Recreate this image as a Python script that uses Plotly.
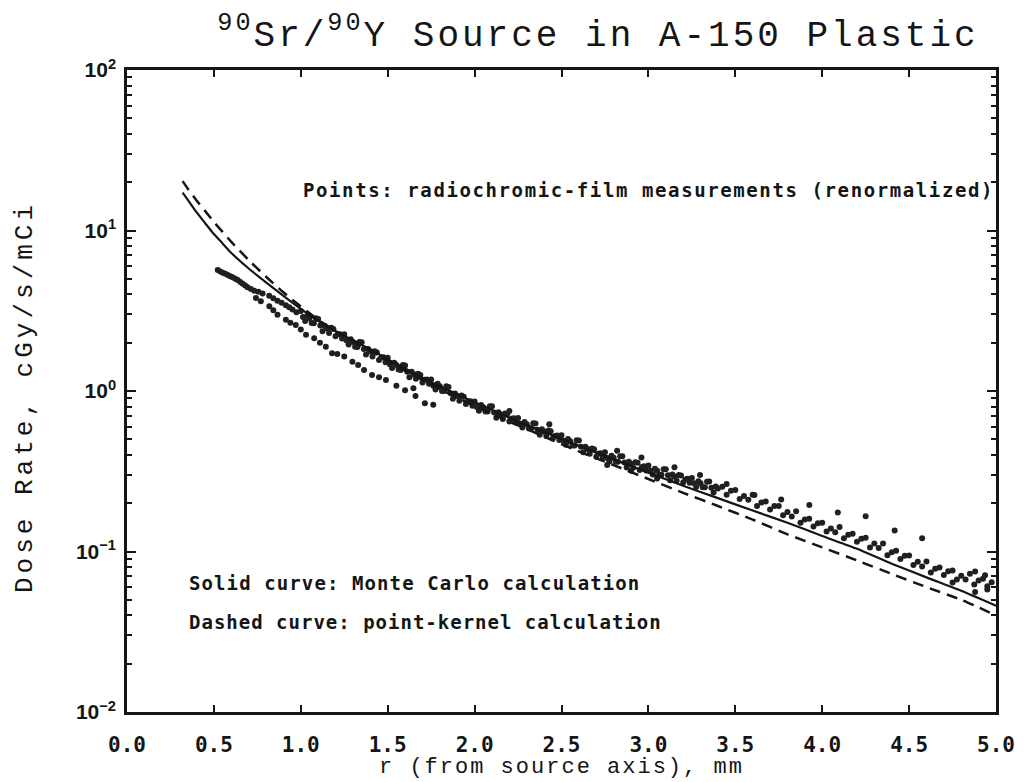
import plotly.graph_objects as go

# Dose-rate curves: Monte Carlo (solid) and point-kernel (dashed) calculations
curve_r = [0.32, 0.35, 0.40, 0.45, 0.50, 0.55, 0.60, 0.70, 0.80, 0.90, 1.00, 1.10,
           1.20, 1.30, 1.40, 1.50, 1.60, 1.70, 1.80, 1.90, 2.00, 2.20, 2.40, 2.60,
           2.80, 3.00, 3.20, 3.40, 3.60, 3.80, 4.00, 4.20, 4.40, 4.60, 4.80, 5.00]
monte_carlo = [17.2, 15.5, 13.0, 11.1, 9.5, 8.3, 7.25, 5.8, 4.75, 3.92, 3.25, 2.74,
               2.36, 2.07, 1.82, 1.58, 1.38, 1.21, 1.07, 0.95, 0.85, 0.68, 0.555, 0.455,
               0.375, 0.31, 0.257, 0.215, 0.180, 0.151, 0.125, 0.104, 0.084, 0.069, 0.057, 0.046]
point_kernel = [20.3, 18.2, 15.4, 13.2, 11.3, 9.8, 8.5, 6.55, 5.15, 4.12, 3.36, 2.78,
                2.36, 2.04, 1.78, 1.54, 1.34, 1.17, 1.03, 0.91, 0.81, 0.645, 0.52, 0.42,
                0.345, 0.283, 0.232, 0.192, 0.158, 0.128, 0.106, 0.088, 0.0725, 0.060, 0.050, 0.040]

# Radiochromic-film measurements (renormalized): near-source band
film_r_near = [0.522, 0.537, 0.551, 0.566, 0.580, 0.594, 0.608, 0.623, 0.637, 0.652,
               0.666, 0.680, 0.694, 0.713, 0.732, 0.756, 0.780, 0.818, 0.842, 0.866,
               0.890, 0.914, 0.933, 0.952, 0.975]
film_d_near = [5.67, 5.56, 5.46, 5.37, 5.28, 5.19, 5.11, 5.01, 4.92, 4.78,
               4.65, 4.54, 4.43, 4.32, 4.22, 4.15, 4.05, 3.92, 3.78, 3.65,
               3.55, 3.42, 3.33, 3.22, 3.10]

# Second (lower) film scan between 0.7 and 1.8 mm
film_r_low = [0.742, 0.770, 0.819, 0.842, 0.866, 0.914, 0.940, 0.971, 1.000, 1.030,
              1.077, 1.110, 1.144, 1.180, 1.210, 1.250, 1.297, 1.330, 1.364, 1.410,
              1.450, 1.490, 1.550, 1.600, 1.648, 1.660, 1.714, 1.762]
film_d_low = [3.80, 3.62, 3.37, 3.18, 2.99, 2.78, 2.66, 2.58, 2.42, 2.24,
              2.13, 2.00, 1.89, 1.72, 1.70, 1.64, 1.52, 1.45, 1.35, 1.26,
              1.22, 1.17, 1.08, 1.01, 1.04, 0.93, 0.84, 0.82]

# Main measurement band, 1.0 - 5.0 mm
film_r_main = [1.000, 1.025, 1.050, 1.075, 1.100, 1.125, 1.150, 1.175, 1.200, 1.225,
               1.250, 1.275, 1.300, 1.325, 1.350, 1.375, 1.400, 1.425, 1.450, 1.475,
               1.500, 1.525, 1.550, 1.575, 1.600, 1.625, 1.650, 1.675, 1.700, 1.725,
               1.750, 1.775, 1.800, 1.825, 1.850, 1.875, 1.900, 1.925, 1.950, 1.975,
               2.000, 2.025, 2.050, 2.075, 2.100, 2.125, 2.150, 2.175, 2.200, 2.225,
               2.250, 2.275, 2.300, 2.325, 2.350, 2.375, 2.400, 2.425, 2.450, 2.475,
               2.500, 2.525, 2.550, 2.575, 2.600, 2.625, 2.650, 2.675, 2.700, 2.725,
               2.750, 2.775, 2.800, 2.825, 2.850, 2.875, 2.900, 2.925, 2.950, 2.975,
               3.000, 3.025, 3.050, 3.075, 3.100, 3.125, 3.150, 3.175, 3.200, 3.225,
               3.250, 3.275, 3.300, 3.325, 3.350, 3.375, 3.400, 3.425, 3.450, 3.475,
               3.500, 3.525, 3.550, 3.575, 3.600, 3.625, 3.650, 3.675, 3.700, 3.725,
               3.750, 3.775, 3.800, 3.825, 3.850, 3.875, 3.900, 3.925, 3.950, 3.975,
               4.000, 4.025, 4.050, 4.075, 4.100, 4.125, 4.150, 4.175, 4.200, 4.225,
               4.250, 4.275, 4.300, 4.325, 4.350, 4.375, 4.400, 4.425, 4.450, 4.475,
               4.500, 4.525, 4.550, 4.575, 4.600, 4.625, 4.650, 4.675, 4.700, 4.725,
               4.750, 4.775, 4.800, 4.825, 4.850, 4.875, 4.900, 4.925, 4.950, 4.975]
film_d_main = [3.15, 2.73, 2.84, 2.64, 2.81, 2.36, 2.46, 2.48, 2.19, 2.26,
               2.26, 1.95, 2.02, 1.88, 2.01, 1.69, 1.76, 1.77, 1.56, 1.62,
               1.61, 1.39, 1.45, 1.35, 1.44, 1.22, 1.27, 1.28, 1.13, 1.18,
               1.18, 1.02, 1.07, 1.00, 1.06, 0.895, 0.930, 0.937, 0.829, 0.863,
               0.861, 0.754, 0.793, 0.744, 0.803, 0.681, 0.714, 0.725, 0.646, 0.677,
               0.679, 0.593, 0.621, 0.583, 0.628, 0.533, 0.560, 0.568, 0.505, 0.528,
               0.530, 0.463, 0.487, 0.457, 0.492, 0.416, 0.435, 0.439, 0.390, 0.410,
               0.415, 0.364, 0.384, 0.362, 0.392, 0.334, 0.352, 0.360, 0.322, 0.340,
               0.343, 0.302, 0.318, 0.301, 0.325, 0.278, 0.293, 0.300, 0.269, 0.284,
               0.287, 0.252, 0.266, 0.251, 0.273, 0.233, 0.247, 0.253, 0.226, 0.239,
               0.242, 0.212, 0.222, 0.210, 0.226, 0.192, 0.202, 0.205, 0.183, 0.192,
               0.192, 0.168, 0.176, 0.165, 0.178, 0.151, 0.158, 0.160, 0.143, 0.150,
               0.151, 0.133, 0.139, 0.132, 0.142, 0.121, 0.127, 0.129, 0.115, 0.120,
               0.122, 0.106, 0.112, 0.105, 0.112, 0.0949, 0.0990, 0.101, 0.0897, 0.0940,
               0.0945, 0.0824, 0.0863, 0.0807, 0.0867, 0.0739, 0.0780, 0.0796, 0.0713, 0.0752,
               0.0761, 0.0669, 0.0707, 0.0669, 0.0728, 0.0623, 0.0660, 0.0676, 0.0608, 0.0643]

# Interleaved readings from the overlapping scan, 1.0 - 3.4 mm
film_r_mid = [1.0125, 1.0375, 1.0625, 1.0875, 1.1125, 1.1375, 1.1625, 1.1875, 1.2125, 1.2375,
              1.2625, 1.2875, 1.3125, 1.3375, 1.3625, 1.3875, 1.4125, 1.4375, 1.4625, 1.4875,
              1.5125, 1.5375, 1.5625, 1.5875, 1.6125, 1.6375, 1.6625, 1.6875, 1.7125, 1.7375,
              1.7625, 1.7875, 1.8125, 1.8375, 1.8625, 1.8875, 1.9125, 1.9375, 1.9625, 1.9875,
              2.0125, 2.0375, 2.0625, 2.0875, 2.1125, 2.1375, 2.1625, 2.1875, 2.2125, 2.2375,
              2.2625, 2.2875, 2.3125, 2.3375, 2.3625, 2.3875, 2.4125, 2.4375, 2.4625, 2.4875,
              2.5125, 2.5375, 2.5625, 2.5875, 2.6125, 2.6375, 2.6625, 2.6875, 2.7125, 2.7375,
              2.7625, 2.7875, 2.8125, 2.8375, 2.8625, 2.8875, 2.9125, 2.9375, 2.9625, 2.9875,
              3.0125, 3.0375, 3.0625, 3.0875, 3.1125, 3.1375, 3.1625, 3.1875, 3.2125, 3.2375,
              3.2625, 3.2875, 3.3125, 3.3375, 3.3625, 3.3875]
film_d_mid = [2.89, 2.94, 2.65, 2.84, 2.56, 2.55, 2.30, 2.43, 2.26, 2.12,
              2.07, 2.10, 1.89, 2.02, 1.83, 1.83, 1.64, 1.74, 1.615, 1.51,
              1.47, 1.50, 1.36, 1.45, 1.32, 1.32, 1.19, 1.26, 1.175, 1.11,
              1.08, 1.11, 1.00, 1.07, 0.969, 0.965, 0.870, 0.922, 0.860, 0.808,
              0.795, 0.818, 0.745, 0.804, 0.734, 0.737, 0.670, 0.716, 0.672, 0.636,
              0.626, 0.642, 0.584, 0.630, 0.574, 0.578, 0.525, 0.561, 0.525, 0.496,
              0.489, 0.502, 0.458, 0.493, 0.449, 0.450, 0.407, 0.433, 0.406, 0.387,
              0.383, 0.395, 0.362, 0.392, 0.359, 0.363, 0.332, 0.357, 0.336, 0.320,
              0.318, 0.328, 0.300, 0.325, 0.299, 0.302, 0.276, 0.297, 0.281, 0.268,
              0.266, 0.274, 0.251, 0.272, 0.250, 0.254]

# Scattered individual readings away from the band
film_r_scatter = [3.297, 3.450, 3.610, 3.764, 3.926, 4.090, 4.250, 4.417, 4.575, 4.880,
                  4.937, 2.820, 2.960, 3.150, 2.430, 2.200, 2.763, 2.900, 3.050, 4.750,
                  4.880, 4.950]
film_d_scatter = [0.300, 0.263, 0.225, 0.211, 0.195, 0.175, 0.166, 0.135, 0.121, 0.075,
                  0.071, 0.425, 0.385, 0.335, 0.62, 0.75, 0.346, 0.318, 0.285, 0.064,
                  0.056, 0.058]

film_r = film_r_near + film_r_low + film_r_main + film_r_mid + film_r_scatter
film_dose = film_d_near + film_d_low + film_d_main + film_d_mid + film_d_scatter

x_ticks = [0.0, 0.5, 1.0, 1.5, 2.0, 2.5, 3.0, 3.5, 4.0, 4.5, 5.0]
x_tick_labels = ["0.0", "0.5", "1.0", "1.5", "2.0", "2.5", "3.0", "3.5", "4.0", "4.5", "5.0"]
y_ticks = [0.01, 0.1, 1, 10, 100]
y_tick_labels = ["10<sup>\u22122</sup>", "10<sup>\u22121</sup>", "10<sup>0</sup>",
                 "10<sup>1</sup>", "10<sup>2</sup>"]
y_minor = [m * 10.0 ** e for e in range(-2, 2) for m in range(2, 10)]

INK = "#151515"
MONO = "DejaVu Sans Mono"
THIN = "Liberation Mono"


def spaced(text, px):
    return f'<span style="letter-spacing:{px}px">{text}</span>'


fig = go.Figure()
fig.add_trace(go.Scatter(
    x=film_r, y=film_dose, mode="markers",
    marker=dict(size=6, color="#202020", line=dict(width=0)),
))
fig.add_trace(go.Scatter(
    x=curve_r, y=monte_carlo, mode="lines",
    line=dict(color=INK, width=2.2, shape="spline", smoothing=0.6),
))
fig.add_trace(go.Scatter(
    x=curve_r, y=point_kernel, mode="lines",
    line=dict(color=INK, width=2.5, dash="11px,7px", shape="spline", smoothing=0.6),
))

axis_common = dict(
    ticks="inside", tickwidth=2, tickcolor=INK, showline=True, linewidth=2.5,
    linecolor=INK, mirror="ticks", showgrid=False, zeroline=False,
)

fig.update_layout(
    width=1027, height=782,
    margin=dict(l=127, r=26, t=70, b=70),
    paper_bgcolor="white", plot_bgcolor="white",
    showlegend=False,
    title=dict(
        text=spaced("<sup>90</sup>Sr/<sup>90</sup>Y Source in A-150 Plastic", 3),
        font=dict(family=THIN, size=36, color=INK),
        x=598 / 1027, xref="container", xanchor="center",
        y=1 - 33 / 782, yref="container", yanchor="middle",
    ),
    xaxis=dict(
        range=[0, 5], tickmode="array", tickvals=x_ticks, ticktext=x_tick_labels,
        ticklen=7,
        tickfont=dict(family=MONO, size=21, color=INK, weight="bold"),
        ticklabelstandoff=12, **axis_common,
    ),
    yaxis=dict(
        type="log", range=[-2, 2], tickmode="array", tickvals=y_ticks,
        ticktext=y_tick_labels, ticklen=9,
        tickfont=dict(family="Liberation Sans", size=21, color=INK, weight="bold"),
        minor=dict(tickmode="array", tickvals=y_minor, ticks="inside", ticklen=5,
                   tickwidth=1.5, tickcolor=INK, showgrid=False),
        ticklabelstandoff=4, **axis_common,
    ),
)

note_font = dict(family=MONO, size=19, color=INK, weight="bold")
fig.add_annotation(
    text=spaced("Points: radiochromic-film measurements (renormalized)", 1.6),
    xref="paper", yref="paper", x=0.2002, y=0.813, xanchor="left", yanchor="middle",
    showarrow=False, font=note_font,
)
fig.add_annotation(
    text=spaced("Solid curve: Monte Carlo calculation", 1.1),
    xref="paper", yref="paper", x=0.0686, y=0.2009, xanchor="left", yanchor="middle",
    showarrow=False, font=note_font,
)
fig.add_annotation(
    text=spaced("Dashed curve: point-kernel calculation", 1.0),
    xref="paper", yref="paper", x=0.0686, y=0.1402, xanchor="left", yanchor="middle",
    showarrow=False, font=note_font,
)
fig.add_annotation(
    text=spaced("r (from source axis), mm", 2),
    xref="paper", yref="paper", x=0.5, y=-0.0872, xanchor="center", yanchor="middle",
    showarrow=False, font=dict(family=THIN, size=22, color=INK),
)
fig.add_annotation(
    text=spaced("Dose Rate, cGy/s/mCi", 4),
    xref="paper", yref="paper", x=-0.1167, y=0.49, xanchor="center", yanchor="middle",
    textangle=-90, showarrow=False, font=dict(family=THIN, size=26, color=INK),
)

fig.write_html("out.html")
